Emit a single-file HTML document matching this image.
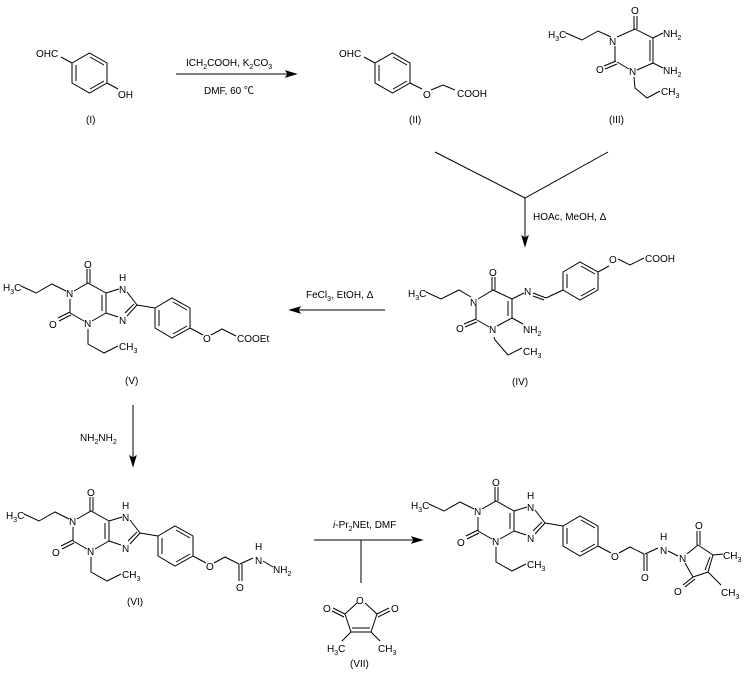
<!DOCTYPE html>
<html><head><meta charset="utf-8"><style>
html,body{margin:0;padding:0;background:#fff;}
svg{display:block;}
text{font-family:"Liberation Sans","Noto Sans CJK SC",sans-serif;font-size:10px;fill:#000;}
.s{font-size:7px;}
line,polyline,polygon{stroke:#000;stroke-width:1;fill:none;}
</style></head><body>
<svg width="755" height="675" viewBox="0 0 755 675" xmlns="http://www.w3.org/2000/svg">
<defs>
<g id="xan">
 <text x="3" y="291">H<tspan class="s" dy="3">3</tspan><tspan dy="-3">C</tspan></text>
 <polyline points="21,286 36,293 52,284 66,291"/>
 <text x="66" y="297">N</text>
 <polyline points="74,291 88,283 106,293 106,313 92,321"/>
 <line x1="102" y1="295" x2="102" y2="311"/>
 <text x="84" y="327">N</text>
 <line x1="84" y1="321" x2="70" y2="313"/><line x1="70" y1="313" x2="70" y2="299"/>
 <line x1="87" y1="283" x2="87" y2="269"/><line x1="90" y1="283" x2="90" y2="269"/>
 <text x="84" y="268">O</text>
 <line x1="70" y1="312" x2="58" y2="318"/><line x1="71" y1="315" x2="59" y2="321"/>
 <text x="49" y="328">O</text>
 <polyline points="88,329 88,344 104,353 118,346"/>
 <text x="119" y="350">CH<tspan class="s" dy="3">3</tspan></text>
 <line x1="106" y1="293" x2="119" y2="289"/>
 <text x="119" y="281">H</text><text x="119" y="293">N</text>
 <line x1="127" y1="292" x2="137" y2="305"/>
 <line x1="137" y1="305" x2="127" y2="316"/><line x1="134" y1="304" x2="125" y2="313"/>
 <text x="119" y="324">N</text>
 <line x1="118" y1="317" x2="106" y2="313"/>
 <line x1="137" y1="305" x2="155" y2="308"/>
 <polygon points="155,308 172,298 190,308 190,328 172,338 155,328"/>
 <line x1="159" y1="310" x2="159" y2="326"/><line x1="173" y1="302" x2="187" y2="310"/><line x1="173" y1="334" x2="187" y2="326"/>
 <line x1="190" y1="328" x2="203" y2="335"/>
 <text x="203" y="342">O</text>
 <polyline points="211,335 222,329 236,336"/>
</g>
</defs>

<!-- I -->
<text x="36" y="57">OHC</text>
<line x1="61" y1="57" x2="72" y2="63"/>
<polygon points="72,63 89.5,53 107,63 107,83 89.5,93 72,83"/>
<line x1="76" y1="65" x2="76" y2="81"/><line x1="90" y1="57" x2="104" y2="65"/><line x1="90" y1="89" x2="104" y2="81"/>
<line x1="107" y1="83" x2="118" y2="89"/>
<text x="118" y="98">OH</text>
<text x="86" y="123">(I)</text>

<!-- arrow 1 -->
<line x1="176" y1="74" x2="290" y2="74"/>
<polygon points="296,74 286,71 288,74 286,77" style="fill:#000"/>
<text x="186" y="66">ICH<tspan class="s" dy="3">2</tspan><tspan dy="-3">COOH, K</tspan><tspan class="s" dy="3">2</tspan><tspan dy="-3">CO</tspan><tspan class="s" dy="3">3</tspan></text>
<text x="204" y="94">DMF, 60 ℃</text>

<!-- II -->
<text x="339" y="57">OHC</text>
<line x1="364" y1="57" x2="375" y2="63"/>
<polygon points="375,63 392.5,53 410,63 410,83 392.5,93 375,83"/>
<line x1="379" y1="65" x2="379" y2="81"/><line x1="393" y1="57" x2="407" y2="65"/><line x1="393" y1="89" x2="407" y2="81"/>
<line x1="410" y1="83" x2="422" y2="89"/>
<text x="423" y="98">O</text>
<polyline points="431,90 443,85 455,90"/>
<text x="457" y="97">COOH</text>
<text x="409" y="123">(II)</text>

<!-- III -->
<text x="548" y="38">H<tspan class="s" dy="3">3</tspan><tspan dy="-3">C</tspan></text>
<polyline points="566,33 582,40 598,31 611,37"/>
<text x="609" y="45">N</text>
<polyline points="617,37 635,29 653,38 653,63 637,70"/>
<line x1="650" y1="40" x2="650" y2="61"/>
<line x1="634" y1="29" x2="634" y2="16"/><line x1="637" y1="29" x2="637" y2="16"/>
<text x="631" y="14">O</text>
<text x="629" y="75">N</text>
<line x1="629" y1="69" x2="617" y2="62"/><line x1="615" y1="62" x2="615" y2="46"/>
<line x1="616" y1="61" x2="604" y2="66"/><line x1="617" y1="64" x2="605" y2="69"/>
<text x="596" y="73">O</text>
<line x1="653" y1="38" x2="663" y2="33"/><line x1="653" y1="63" x2="663" y2="68"/>
<text x="663" y="37">NH<tspan class="s" dy="3">2</tspan></text>
<text x="663" y="74">NH<tspan class="s" dy="3">2</tspan></text>
<polyline points="634,77 635,88 647,98 660,91"/>
<text x="661" y="95">CH<tspan class="s" dy="3">3</tspan></text>
<text x="609" y="123">(III)</text>

<!-- merge -->
<polyline points="435,152 525,198 608,152"/>
<line x1="525" y1="198" x2="525" y2="240"/>
<polygon points="525,246 522,236 525,238 528,236" style="fill:#000"/>
<text x="533" y="220">HOAc, MeOH, Δ</text>

<!-- IV -->
<text x="408" y="297">H<tspan class="s" dy="3">3</tspan><tspan dy="-3">C</tspan></text>
<polyline points="426,292 441,299 459,290 471,297"/>
<text x="470" y="306">N</text>
<polyline points="478,299 493,290 512,299 512,318 497,326"/>
<line x1="508" y1="301" x2="508" y2="316"/>
<line x1="492" y1="290" x2="492" y2="277"/><line x1="495" y1="290" x2="495" y2="277"/>
<text x="489" y="276">O</text>
<text x="489" y="333">N</text>
<line x1="489" y1="327" x2="477" y2="320"/><line x1="476" y1="320" x2="476" y2="306"/>
<line x1="476" y1="319" x2="464" y2="324"/><line x1="477" y1="322" x2="465" y2="327"/>
<text x="456" y="332">O</text>
<line x1="512" y1="318" x2="523" y2="324"/>
<text x="523" y="333">NH<tspan class="s" dy="3">2</tspan></text>
<line x1="512" y1="299" x2="524" y2="293"/>
<text x="524" y="295">N</text>
<line x1="533" y1="293" x2="546" y2="298"/><line x1="533" y1="296" x2="544" y2="300"/>
<line x1="546" y1="298" x2="563" y2="290"/>
<polygon points="563,272 580,262 598,272 598,290 580,300 563,290"/>
<line x1="567" y1="274" x2="567" y2="288"/><line x1="581" y1="266" x2="595" y2="274"/><line x1="581" y1="296" x2="595" y2="288"/>
<line x1="598" y1="272" x2="609" y2="266"/>
<text x="609" y="263">O</text>
<polyline points="618,259 630,265 644,258"/>
<text x="645" y="262">COOH</text>
<polyline points="494,337 495,340 508,355 522,348"/>
<text x="523" y="355">CH<tspan class="s" dy="3">3</tspan></text>
<text x="512" y="385">(IV)</text>

<!-- arrow FeCl3 -->
<line x1="296" y1="310" x2="385" y2="310"/>
<polygon points="290,310 300,307 298,310 300,313" style="fill:#000"/>
<text x="306" y="298">FeCl<tspan class="s" dy="3">3</tspan><tspan dy="-3">, EtOH, Δ</tspan></text>

<!-- V -->
<use href="#xan"/>
<text x="237" y="342">COOEt</text>
<text x="125" y="384">(V)</text>

<!-- arrow down -->
<line x1="133" y1="405" x2="133" y2="460"/>
<polygon points="133,466 130,456 133,458 136,456" style="fill:#000"/>
<text x="80" y="441">NH<tspan class="s" dy="3">2</tspan><tspan dy="-3">NH</tspan><tspan class="s" dy="3">2</tspan></text>

<!-- VI -->
<g transform="translate(3,228)">
 <use href="#xan"/>
 <line x1="236" y1="336" x2="236" y2="353"/><line x1="239" y1="336" x2="239" y2="353"/>
 <text x="233" y="363">O</text>
 <line x1="237" y1="336" x2="250" y2="330"/>
 <text x="252" y="336">N</text><text x="252" y="322">H</text>
 <line x1="260" y1="333" x2="270" y2="339"/>
 <text x="270" y="345">NH<tspan class="s" dy="3">2</tspan></text>
</g>
<text x="127" y="605">(VI)</text>

<!-- arrow bottom -->
<line x1="314" y1="540" x2="416" y2="540"/>
<polygon points="422,540 412,537 414,540 412,543" style="fill:#000"/>
<line x1="361" y1="540" x2="361" y2="583"/>
<text x="333" y="528"><tspan font-style="italic">i</tspan>-Pr<tspan class="s" dy="3">2</tspan><tspan dy="-3">NEt, DMF</tspan></text>

<!-- VII -->
<text x="356" y="604">O</text>
<line x1="357" y1="603" x2="345" y2="614"/><line x1="365" y1="603" x2="377" y2="614"/>
<line x1="345" y1="614" x2="351" y2="632"/><line x1="377" y1="614" x2="371" y2="632"/>
<line x1="351" y1="632" x2="371" y2="632"/><line x1="352" y1="628" x2="370" y2="628"/>
<line x1="345" y1="614" x2="333" y2="608"/><line x1="344" y1="617" x2="332" y2="611"/>
<text x="323" y="612">O</text>
<line x1="377" y1="614" x2="389" y2="608"/><line x1="378" y1="617" x2="390" y2="611"/>
<text x="391" y="612">O</text>
<line x1="351" y1="632" x2="342" y2="641"/><line x1="371" y1="632" x2="380" y2="641"/>
<text x="327" y="652">H<tspan class="s" dy="3">3</tspan><tspan dy="-3">C</tspan></text>
<text x="378" y="652">CH<tspan class="s" dy="3">3</tspan></text>
<text x="350" y="667">(VII)</text>

<!-- product -->
<g transform="translate(408,218)">
 <use href="#xan"/>
 <line x1="236" y1="336" x2="236" y2="353"/><line x1="239" y1="336" x2="239" y2="353"/>
 <text x="233" y="363">O</text>
 <line x1="237" y1="336" x2="250" y2="330"/>
 <text x="252" y="336">N</text><text x="252" y="322">H</text>
 <line x1="260" y1="333" x2="270" y2="338"/>
 <text x="271" y="344">N</text>
 <line x1="279" y1="336" x2="290" y2="327"/>
 <line x1="290" y1="327" x2="305" y2="337"/>
 <line x1="305" y1="337" x2="300" y2="354"/><line x1="302" y1="339" x2="297" y2="352"/>
 <line x1="300" y1="354" x2="285" y2="359"/>
 <line x1="285" y1="359" x2="277" y2="345"/>
 <line x1="289" y1="327" x2="289" y2="313"/><line x1="292" y1="327" x2="292" y2="313"/>
 <text x="287" y="311">O</text>
 <line x1="285" y1="359" x2="275" y2="367"/><line x1="287" y1="361" x2="277" y2="369"/>
 <text x="266" y="377">O</text>
 <line x1="305" y1="337" x2="315" y2="336"/>
 <text x="315" y="341">CH<tspan class="s" dy="3">3</tspan></text>
 <line x1="300" y1="354" x2="313" y2="367"/>
 <text x="313" y="378">CH<tspan class="s" dy="3">3</tspan></text>
</g>
</svg>
</body></html>
